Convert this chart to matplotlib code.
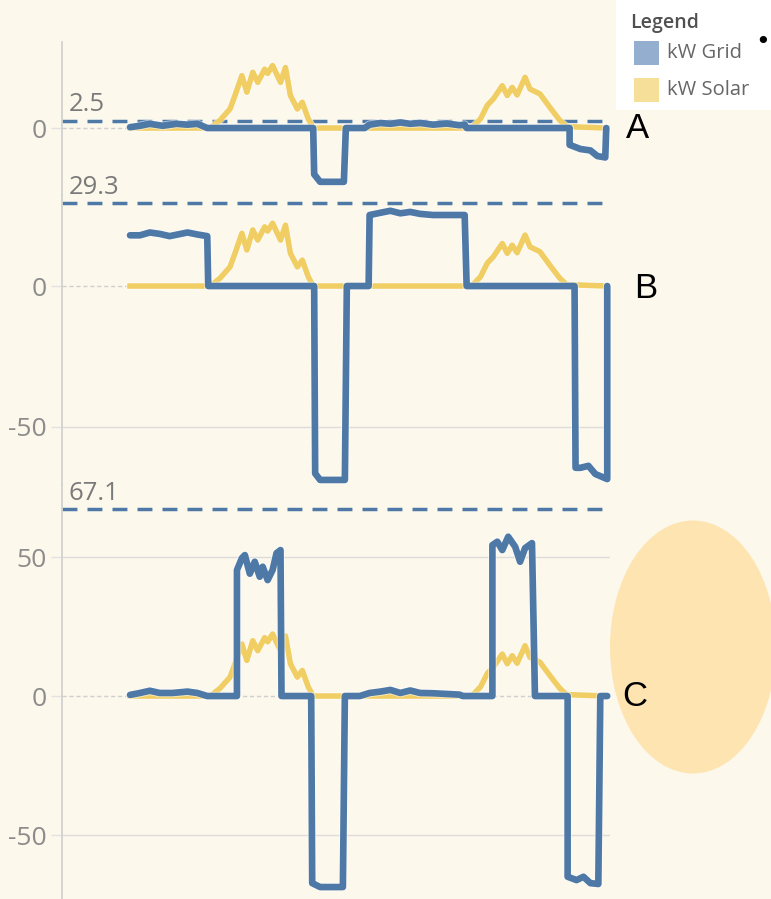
import numpy as np
import matplotlib
matplotlib.use('Agg')
import matplotlib.pyplot as plt
from matplotlib.patches import Ellipse, Rectangle
import matplotlib.patheffects as pe

# hours from start of record
solar_t = [0, 8.1, 9.1, 10.1, 10.6, 11.3, 11.8, 12.4, 12.9, 13.6, 13.9, 14.4, 15.2, 15.7, 16.2, 16.9, 17.4, 18.0, 18.5,
           34.5, 35.4, 36.1, 36.7, 37.6, 38.1, 38.6, 39.1, 39.9, 40.4, 41.4, 42.4, 43.4, 44.1, 48.2]
solar_kw = [0, 0, 2.8, 6.8, 11.6, 18.7, 12.8, 19.9, 16.3, 21.0, 19.5, 22.3, 16.3, 21.6, 11.6, 6.8, 9.2, 3.3, 0,
            0, 3.3, 8.2, 10.4, 15.1, 11.6, 14.5, 11.8, 18.1, 13.9, 12.2, 7.4, 2.8, 0.5, 0]

gridA_t = [0, 1.0, 2.0, 3.3, 4.7, 5.8, 6.8, 7.8, 18.5, 18.6, 19.2, 21.6, 21.8, 23.7, 24.2, 25.3, 26.3, 27.3, 28.3,
           29.3, 30.6, 32.0, 33.3, 33.8, 34.0, 44.4, 44.4, 45.5, 46.5, 47.2, 48.0, 48.1]
gridA_kw = [0.3, 0.8, 1.5, 0.8, 1.5, 1.2, 1.5, 0, 0, -16.5, -19.2, -19.2, 0, 0, 1.2, 1.8, 1.5, 2.0, 1.5,
            1.8, 1.2, 1.6, 1.0, 1.2, 0, 0, -6, -7.5, -8, -10, -10.5, 0]

gridB_t = [0, 1.0, 2.0, 3.0, 4.0, 5.8, 6.8, 7.8, 7.9, 18.6, 18.7, 19.2, 21.7, 21.9, 24.1, 24.2, 25.3, 26.3, 27.3,
           28.3, 29.3, 30.6, 32.0, 33.8, 34.0, 44.9, 45.0, 45.5, 46.3, 47.0, 48.2, 48.2]
gridB_kw = [18.0, 18.0, 19.0, 18.5, 17.7, 19.0, 18.3, 17.7, 0, 0, -66.5, -68.8, -68.8, 0, 0, 25.2, 26.0, 26.7, 25.8,
            26.3, 25.6, 25.2, 25.2, 25.2, 0, 0, -64.5, -64.5, -63.8, -66.7, -68.5, 0]

gridC_t = [0, 1.0, 2.0, 3.0, 4.3, 5.8, 6.8, 7.8, 10.8, 10.8, 11.3, 11.6, 12.1, 12.6, 13.1, 13.4, 13.9, 14.4, 14.8,
           15.2, 15.3, 18.3, 18.4, 19.2, 21.5, 21.7, 23.2, 24.2, 25.3, 26.3, 27.3, 28.3, 29.3, 30.6, 33.3, 33.6,
           36.6, 36.6, 37.1, 37.6, 38.2, 38.9, 39.4, 39.9, 40.6, 40.9, 44.2, 44.2, 45.1, 45.8, 46.5, 47.3, 47.5, 48.2]
gridC_kw = [0.4, 1.1, 1.9, 1.1, 1.1, 1.6, 1.1, 0, 0, 45.3, 49.6, 50.7, 44.0, 48.3, 42.9, 46.5, 41.7, 45.3, 51.4,
            52.5, 0, 0, -67.3, -68.7, -68.7, 0, 0, 1.1, 1.6, 2.2, 1.1, 2.0, 1.1, 1.0, 0.5, 0,
            0, 54.3, 55.5, 52.5, 57.3, 53.7, 48.3, 53.2, 55.0, 0, 0, -65.0, -66.2, -65.0, -67.3, -67.6, 0, 0]

panel_names = ['A', 'B', 'C']
ref_values = [2.5, 29.3, 67.1]
ref_labels = ['2.5', '29.3', '67.1']
panel_ticks = [[0], [0, -50], [50, 0, -50]]
panel_grids = [[], [-50], [50, -50]]

blue = '#4e79a7'
yellow = '#f1ce63'
bg = '#fdf8ec'

W, H = 771, 899
fig = plt.figure(figsize=(W / 100, H / 100), dpi=100, facecolor=bg)

# panel extents in pixels (top, bottom) and y limits
x0, x1 = 62, 610
tops = [42, 195, 485]
bots = [195, 485, 899]
ylims = [(-23.9, 30.7), (-70.6, 32.3), (-73.0, 75.9)]
label_x = [626, 634, 622]
label_y = [128, 288, 697]

grids = [(gridA_t, gridA_kw), (gridB_t, gridB_kw), (gridC_t, gridC_kw)]

halo = lambda w: [pe.Stroke(linewidth=w + 1.4, foreground='white', alpha=0.55), pe.Normal()]

for i in range(3):
    ax = fig.add_axes([x0 / W, 1 - bots[i] / H, (x1 - x0) / W, (bots[i] - tops[i]) / H])
    ax.set_facecolor('none')
    ax.set_xlim(-6.87, 48.48)
    ax.set_ylim(*ylims[i])
    for s in ['top', 'right', 'bottom']:
        ax.spines[s].set_visible(False)
    ax.spines['left'].set_color('#cfcfcf')
    ax.spines['left'].set_linewidth(1.2)
    ax.set_xticks([])
    ax.set_yticks(panel_ticks[i])
    ax.set_yticklabels([str(v) for v in panel_ticks[i]], fontfamily='Open Sans', fontsize=19, color='#8c8c8c')
    ax.tick_params(axis='y', length=8, width=1, color='#e2e2e2', pad=3)

    for g in panel_grids[i]:
        ax.axhline(g, color='#dcdcdc', lw=1, zorder=1)
    ax.axhline(0, color='#cfcfcf', lw=1, ls=(0, (3, 2)), zorder=1)

    # reference line
    ax.axhline(ref_values[i], color=blue, lw=2.5, ls=(0, (4.3, 2.9)), zorder=2)
    ax.annotate(ref_labels[i], xy=(0, ref_values[i]), xycoords=('axes fraction', 'data'),
                xytext=(4.5, 7), textcoords='offset points', va='baseline', ha='left',
                fontfamily='Open Sans', fontsize=18.5, color='#7a7a7a', annotation_clip=False)

    ax.plot(solar_t, solar_kw, color=yellow, lw=4.0, solid_joinstyle='round', zorder=3,
            clip_on=False, path_effects=halo(4.0))
    t, kw = grids[i]
    ax.plot(t, kw, color=blue, lw=4.8, solid_joinstyle='round', solid_capstyle='round', zorder=4,
            clip_on=False, path_effects=halo(4.8))

# decorative oval behind C
fig.patches.append(Ellipse((693 / W, 1 - 647 / H), 166 / W, 253 / H, transform=fig.transFigure,
                           facecolor='#fde4b1', edgecolor='none', zorder=0))

for i in range(3):
    fig.text(label_x[i] / W, 1 - label_y[i] / H, panel_names[i], fontfamily='Liberation Sans',
             fontsize=25, color='black', ha='left', va='center', zorder=5)

# legend box
fig.patches.append(Rectangle((616 / W, 1 - 110 / H), 1 - 616 / W, 110 / H, transform=fig.transFigure,
                             facecolor='white', edgecolor='none', zorder=1))
fig.text(630 / W, 1 - 23 / H, 'Legend', fontfamily='Open Sans', fontweight='semibold', fontsize=14,
         color='#505050', ha='left', va='center', zorder=5)
legend_items = ['kW Grid', 'kW Solar']
legend_colors = ['#93aecf', '#f6df98']
for j in range(2):
    yc = 53 + j * 37
    fig.patches.append(Rectangle((634 / W, 1 - (yc + 12) / H), 25 / W, 24 / H, transform=fig.transFigure,
                                 facecolor=legend_colors[j], edgecolor='none', zorder=2))
    fig.text(667 / W, 1 - yc / H, legend_items[j], fontfamily='Open Sans', fontsize=14.5,
             color='#666666', ha='left', va='center', zorder=5)
fig.text(763 / W, 1 - 42 / H, '\u2022', fontfamily='DejaVu Sans', fontsize=18, color='black',
         ha='center', va='center', zorder=5)

fig.savefig('out.png', dpi=100, facecolor=bg)
